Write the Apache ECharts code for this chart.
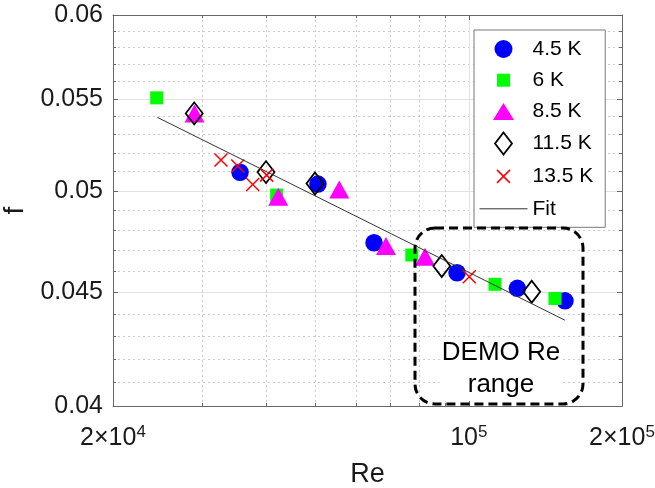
<!DOCTYPE html>
<html>
<head>
<meta charset="utf-8">
<script src="https://cdn.jsdelivr.net/npm/echarts@6/dist/echarts.min.js"></script>
<style>html,body{margin:0;padding:0;background:#fff}#c{width:655px;height:488px}</style>
</head>
<body>
<div id="c"></div>
<script>
// ---- data ----
const re45 = [35530, 50550, 65140, 94830, 124570, 154530];
const f45  = [0.05097, 0.05035, 0.04738, 0.04593, 0.04519, 0.04461];
const re6  = [24370, 41930, 77270, 112600, 147700];
const f6   = [0.05506, 0.04978, 0.04678, 0.04538, 0.04472];
const re85 = [28920, 42240, 55670, 68770, 82050];
const f85  = [0.05417, 0.04969, 0.05007, 0.04722, 0.04670];
const re115 = [28880, 39960, 49870, 88490, 132950];
const f115  = [0.05418, 0.05098, 0.05038, 0.04625, 0.04503];
const re135 = [32600, 35170, 37630, 40080, 100240];
const f135  = [0.05162, 0.05130, 0.05033, 0.05082, 0.04574];
const fitRe = [24440, 154500];
const fitF  = [0.05396, 0.04372];

const seriesNames = ['4.5 K', '6 K', '8.5 K', '11.5 K', '13.5 K', 'Fit'];

const xMajorTicks = [20000, 100000, 200000];
const xTickBase = ['2×10', '10', '2×10'];
const xTickExp  = ['4', '5', '5'];
const xMinorTicks = [30000, 40000, 50000, 60000, 70000, 80000, 90000];
const yMajorTicks = [0.04, 0.045, 0.05, 0.055, 0.06];
const yTickLabels = ['0.04', '0.045', '0.05', '0.055', '0.06'];
const yMinorTicks = [0.041, 0.042, 0.043, 0.044, 0.046, 0.047, 0.048, 0.049,
                     0.051, 0.052, 0.053, 0.054, 0.056, 0.057, 0.058, 0.059];

// ---- helpers ----
const FONT = "'Liberation Sans', Arial, Helvetica, sans-serif";
const AX = '#666666';
function pair(xs, ys) { return xs.map((x, i) => [x, ys[i]]); }
function nearestIdx(arr, v) {
  let best = 0, bd = Infinity;
  arr.forEach((a, i) => { const d = Math.abs(Math.log(a) - Math.log(v)); if (d < bd) { bd = d; best = i; } });
  return best;
}

const xBase = { type: 'log', logBase: 10, min: 20000, max: 200000, gridIndex: 0 };
const yBase = { type: 'log', logBase: 10, min: 0.04, max: 0.06, gridIndex: 0 };

const xAxes = [
  Object.assign({}, xBase, {
    position: 'bottom',
    name: 'Re', nameLocation: 'middle', nameGap: 55,
    nameTextStyle: { fontSize: 27, color: '#1a1a1a', fontFamily: FONT },
    axisLine: { show: true, lineStyle: { color: AX, width: 1 } },
    axisTick: { show: true, inside: true, length: 5, customValues: xMajorTicks, lineStyle: { color: AX } },
    axisLabel: {
      show: true, margin: 18, customValues: xMajorTicks,
      formatter: v => { const i = nearestIdx(xMajorTicks, v); return '{b|' + xTickBase[i] + '}{s|' + xTickExp[i] + '}'; },
      rich: {
        b: { fontSize: 25, lineHeight: 27, fontFamily: FONT, color: '#1a1a1a', verticalAlign: 'bottom' },
        s: { fontSize: 17, lineHeight: 18, fontFamily: FONT, color: '#1a1a1a', verticalAlign: 'top' }
      }
    },
    splitLine: { show: true, lineStyle: { color: '#e2e2e2', width: 1 } },
    minorTick: { show: false }, minorSplitLine: { show: false }
  }),
  Object.assign({}, xBase, {
    position: 'bottom',
    axisLine: { show: false },
    axisTick: { show: true, inside: true, length: 3, customValues: xMinorTicks, lineStyle: { color: AX } },
    axisLabel: { show: false },
    splitLine: { show: true, lineStyle: { color: '#cdcdcd', width: 1, type: [2, 3] } }
  }),
  Object.assign({}, xBase, {
    position: 'top',
    axisLine: { show: true, lineStyle: { color: AX, width: 1 } },
    axisTick: { show: true, inside: true, length: 5, customValues: xMajorTicks, lineStyle: { color: AX } },
    axisLabel: { show: false },
    splitLine: { show: false }
  }),
  Object.assign({}, xBase, {
    position: 'top',
    axisLine: { show: false },
    axisTick: { show: true, inside: true, length: 3, customValues: xMinorTicks, lineStyle: { color: AX } },
    axisLabel: { show: false },
    splitLine: { show: false }
  })
];

const yAxes = [
  Object.assign({}, yBase, {
    position: 'left',
    name: 'f', nameLocation: 'middle', nameGap: 82, nameRotate: 90,
    nameTextStyle: { fontSize: 28, color: '#1a1a1a', fontFamily: FONT },
    axisLine: { show: true, lineStyle: { color: AX, width: 1 } },
    axisTick: { show: true, inside: true, length: 5, customValues: yMajorTicks, lineStyle: { color: AX } },
    axisLabel: {
      show: true, margin: 10, customValues: yMajorTicks,
      fontSize: 25, fontFamily: FONT, color: '#1a1a1a',
      formatter: v => yTickLabels[nearestIdx(yMajorTicks, v)]
    },
    splitLine: { show: true, lineStyle: { color: '#e2e2e2', width: 1 } },
    minorTick: { show: false }, minorSplitLine: { show: false }
  }),
  Object.assign({}, yBase, {
    position: 'left',
    axisLine: { show: false },
    axisTick: { show: true, inside: true, length: 3, customValues: yMinorTicks, lineStyle: { color: AX } },
    axisLabel: { show: false },
    splitLine: { show: true, lineStyle: { color: '#cdcdcd', width: 1, type: [2, 3] } }
  }),
  Object.assign({}, yBase, {
    position: 'right',
    axisLine: { show: true, lineStyle: { color: AX, width: 1 } },
    axisTick: { show: true, inside: true, length: 5, customValues: yMajorTicks, lineStyle: { color: AX } },
    axisLabel: { show: false },
    splitLine: { show: false }
  }),
  Object.assign({}, yBase, {
    position: 'right',
    axisLine: { show: false },
    axisTick: { show: true, inside: true, length: 3, customValues: yMinorTicks, lineStyle: { color: AX } },
    axisLabel: { show: false },
    splitLine: { show: false }
  })
];

const xPath = 'path://M0,0L10,10M10,0L0,10';

const option = {
  animation: false,
  backgroundColor: '#ffffff',
  grid: { left: 113, top: 15, right: 33, bottom: 82, containLabel: false, outerBoundsMode: 'none' },
  xAxis: xAxes,
  yAxis: yAxes,
  legend: {
    orient: 'vertical', left: 474, top: 30,
    itemWidth: 48, itemHeight: 22, itemGap: 9.2,
    padding: [8, 12, 7, 5],
    backgroundColor: '#ffffff', borderColor: '#777777', borderWidth: 1, borderRadius: 0,
    selectedMode: false,
    textStyle: { fontSize: 21, color: '#000', fontFamily: FONT },
    symbolKeepAspect: true,
    data: [
      { name: seriesNames[0], icon: 'path://M0,-11M0,11M-9,0A9,9,0,1,1,9,0A9,9,0,1,1,-9,0Z', itemStyle: { color: '#0000ff', borderWidth: 0, opacity: 1 } },
      { name: seriesNames[1], icon: 'path://M0,-11M0,11M-6.5,-6.5L6.5,-6.5L6.5,6.5L-6.5,6.5Z', itemStyle: { color: '#00ff00', borderWidth: 0, opacity: 1 } },
      { name: seriesNames[2], icon: 'path://M0,-11M0,11M0,-8.5L10.5,8.5L-10.5,8.5Z', itemStyle: { color: '#ff00ff', borderWidth: 0, opacity: 1 } },
      { name: seriesNames[3], icon: 'path://M0,-11L8.5,0L0,11L-8.5,0Z', itemStyle: { color: 'rgba(0,0,0,0)', borderColor: '#000', borderWidth: 1.8, opacity: 1 } },
      { name: seriesNames[4], icon: 'path://M0,-11M0,11M-6.5,-6.5L6.5,6.5M6.5,-6.5L-6.5,6.5', itemStyle: { color: 'rgba(0,0,0,0)', borderColor: '#ff0000', borderWidth: 1.5, opacity: 1 } },
      { name: seriesNames[5], icon: 'path://M-24,0L24,0M0,-11M0,11', itemStyle: { color: 'rgba(0,0,0,0)', borderColor: '#333333', borderWidth: 1, opacity: 1 } }
    ]
  },
  series: [
    { name: seriesNames[0], type: 'scatter', xAxisIndex: 0, yAxisIndex: 0, symbol: 'circle', symbolSize: 17.5,
      itemStyle: { color: '#0000ff', opacity: 1 }, data: pair(re45, f45), silent: true },
    { name: seriesNames[1], type: 'scatter', xAxisIndex: 0, yAxisIndex: 0, symbol: 'rect', symbolSize: 13,
      itemStyle: { color: '#00ff00', opacity: 1 }, data: pair(re6, f6), silent: true },
    { name: seriesNames[2], type: 'scatter', xAxisIndex: 0, yAxisIndex: 0, symbol: 'triangle', symbolSize: [20, 18],
      itemStyle: { color: '#ff00ff', opacity: 1 }, data: pair(re85, f85), silent: true },
    { name: seriesNames[3], type: 'scatter', xAxisIndex: 0, yAxisIndex: 0, symbol: 'diamond', symbolSize: [17, 22],
      itemStyle: { color: 'rgba(0,0,0,0)', borderColor: '#000000', borderWidth: 1.8, opacity: 1 }, data: pair(re115, f115), silent: true },
    { name: seriesNames[4], type: 'scatter', xAxisIndex: 0, yAxisIndex: 0, symbol: xPath, symbolSize: 13,
      itemStyle: { color: 'rgba(0,0,0,0)', borderColor: '#ff0000', borderWidth: 1.5, opacity: 1 }, data: pair(re135, f135), silent: true },
    { name: seriesNames[5], type: 'line', xAxisIndex: 0, yAxisIndex: 0, symbol: 'none', showSymbol: false,
      lineStyle: { color: '#333333', width: 1 }, data: pair(fitRe, fitF), silent: true, z: 5 }
  ],
  graphic: [
    { type: 'text', x: 501, y: 369, z: 90,
      style: { text: 'DEMO Re\nrange', fontSize: 26, fontFamily: FONT, fill: '#000',
               align: 'center', verticalAlign: 'middle', lineHeight: 32,
               backgroundColor: '#ffffff', padding: [0, 2] } },
    { type: 'rect', z: 100,
      shape: { x: 415, y: 228, width: 168, height: 176, r: 20 },
      style: { fill: 'none', stroke: '#000', lineWidth: 3, lineDash: [9, 5] } }
  ]
};

const chart = echarts.init(document.getElementById('c'), null, { renderer: 'canvas' });
chart.setOption(option);
</script>
</body>
</html>
